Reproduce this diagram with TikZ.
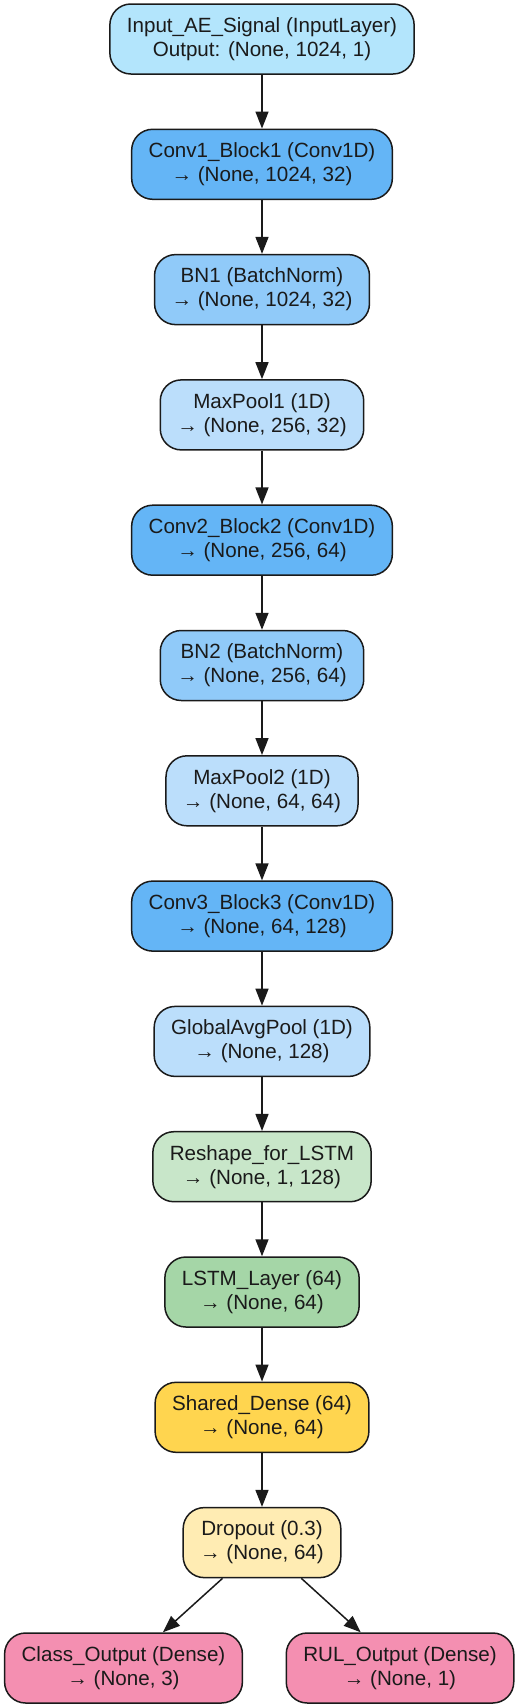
\documentclass[tikz,border=0pt]{standalone}
\usepackage{fontspec}
\setmainfont{Liberation Sans}
\usetikzlibrary{arrows.meta}
\definecolor{cinput}{HTML}{B3E5FC}
\definecolor{cconv}{HTML}{64B5F6}
\definecolor{cbn}{HTML}{90CAF9}
\definecolor{cpool}{HTML}{BBDEFB}
\definecolor{creshape}{HTML}{C8E6C9}
\definecolor{clstm}{HTML}{A5D6A7}
\definecolor{cdense}{HTML}{FFD54F}
\definecolor{cdrop}{HTML}{FFECB3}
\definecolor{cout}{HTML}{F48FB1}
\definecolor{cline}{HTML}{1A1A1A}
\tikzset{
  layer/.style={draw=cline, line width=1.5pt, rounded corners=21pt,
    align=center, inner xsep=17pt, inner ysep=4pt, minimum height=70pt,
    font=\fontsize{20.6}{24}\selectfont, text=cline},
  conn/.style={draw=cline, line width=1.5pt, -{Triangle[length=17pt,width=13pt]}}
}
\begin{document}
\begin{tikzpicture}[x=1pt,y=1pt]
\useasboundingbox (0,0) rectangle (520,-1708);
\def\cx{262}
\node[layer, fill=cinput]   (n0)  at (\cx,-39)     {Input\_AE\_Signal (InputLayer)\\Output: (None, 1024, 1)};
\node[layer, fill=cconv]    (n1)  at (\cx,-164.3)  {Conv1\_Block1 (Conv1D)\\→ (None, 1024, 32)};
\node[layer, fill=cbn]      (n2)  at (\cx,-289.6)  {BN1 (BatchNorm)\\→ (None, 1024, 32)};
\node[layer, fill=cpool]    (n3)  at (\cx,-414.9)  {MaxPool1 (1D)\\→ (None, 256, 32)};
\node[layer, fill=cconv]    (n4)  at (\cx,-540.2)  {Conv2\_Block2 (Conv1D)\\→ (None, 256, 64)};
\node[layer, fill=cbn]      (n5)  at (\cx,-665.5)  {BN2 (BatchNorm)\\→ (None, 256, 64)};
\node[layer, fill=cpool]    (n6)  at (\cx,-790.8)  {MaxPool2 (1D)\\→ (None, 64, 64)};
\node[layer, fill=cconv]    (n7)  at (\cx,-916.1)  {Conv3\_Block3 (Conv1D)\\→ (None, 64, 128)};
\node[layer, fill=cpool]    (n8)  at (\cx,-1041.4) {GlobalAvgPool (1D)\\→ (None, 128)};
\node[layer, fill=creshape] (n9)  at (\cx,-1166.7) {Reshape\_for\_LSTM\\→ (None, 1, 128)};
\node[layer, fill=clstm]    (n10) at (\cx,-1292)   {LSTM\_Layer (64)\\→ (None, 64)};
\node[layer, fill=cdense]   (n11) at (\cx,-1417.3) {Shared\_Dense (64)\\→ (None, 64)};
\node[layer, fill=cdrop]    (n12) at (\cx,-1542.6) {Dropout (0.3)\\→ (None, 64)};
\node[layer, fill=cout]     (n13) at (123.5,-1668) {Class\_Output (Dense)\\→ (None, 3)};
\node[layer, fill=cout]     (n14) at (400,-1668)   {RUL\_Output (Dense)\\→ (None, 1)};
\foreach \a/\b in {n0/n1,n1/n2,n2/n3,n3/n4,n4/n5,n5/n6,n6/n7,n7/n8,n8/n9,n9/n10,n10/n11,n11/n12,n12/n13,n12/n14}
  \draw[conn] (\a) -- (\b);
\end{tikzpicture}
\end{document}
